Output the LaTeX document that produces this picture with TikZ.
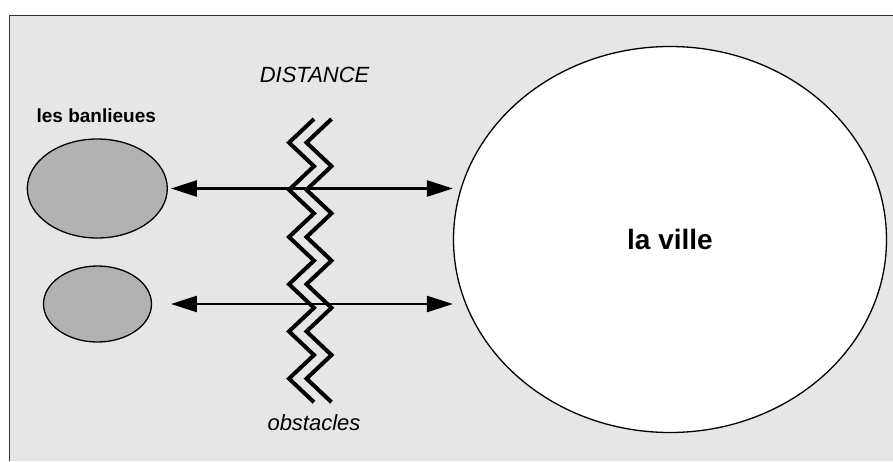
\documentclass[tikz,border=0pt]{standalone}
\usepackage{fontspec}
\setmainfont{Liberation Sans}
\usetikzlibrary{shapes.geometric,arrows.meta}
\definecolor{fond}{RGB}{230,230,230}
\definecolor{banlieue}{RGB}{178,178,178}
\definecolor{cadre}{RGB}{50,50,50}

\begin{document}
\begin{tikzpicture}[x=1pt,y=-1pt]
        \tikzstyle{every node}=[inner sep=0pt]
        \tikzstyle{zone}=[ellipse,draw=black,line width=1.3pt]
        \tikzstyle{fleche}=[line width=2.5pt,{Triangle[length=26pt,width=16pt]}-{Triangle[length=26pt,width=16pt]}]
        \tikzstyle{zigzag}=[line width=4pt,miter limit=10]
        \useasboundingbox (0,0) rectangle (893,461);
        \fill[white] (0,0) rectangle (893,461);
        \fill[fond] (9,15) rectangle (893,461);
        \draw[cadre,line width=1pt] (9,461) -- (9,15) -- (893,15);

        % la ville et les banlieues
        \node[zone,fill=white,minimum width=433pt,minimum height=386pt] (ville) at (670,239.5)
            {\fontsize{28}{32}\selectfont\bfseries la ville};
        \node[zone,fill=banlieue,minimum width=140pt,minimum height=99pt] (ell1) at (97.3,188.5) {};
        \node[zone,fill=banlieue,minimum width=108pt,minimum height=76pt] (ell2) at (97.5,304) {};
        \node (banlieues) at (96.3,115.5) {\fontsize{19}{22}\selectfont\bfseries les banlieues};

        % les fleches
        \draw[fleche,shorten <=3pt] (ell1.east) -- (ell1.east -| ville.west);
        \draw[fleche,shorten <=3pt] (ell1.east |- ell2.east) -- (ell2.east -| ville.west);

        % les obstacles
        \draw[zigzag] (314,119) \foreach \k in {1,...,12}{ -- ({314-25*mod(\k,2)},{119+23.6*\k}) };
        \draw[zigzag,xshift=17.5pt] (314,119) \foreach \k in {1,...,12}{ -- ({314-25*mod(\k,2)},{119+23.6*\k}) };

        \node (distance) at (314.6,75) {\fontsize{22}{26}\selectfont\itshape DISTANCE};
        \node (obstacles) at (314,423) {\fontsize{22}{26}\selectfont\itshape obstacles};
\end{tikzpicture}
\end{document}
